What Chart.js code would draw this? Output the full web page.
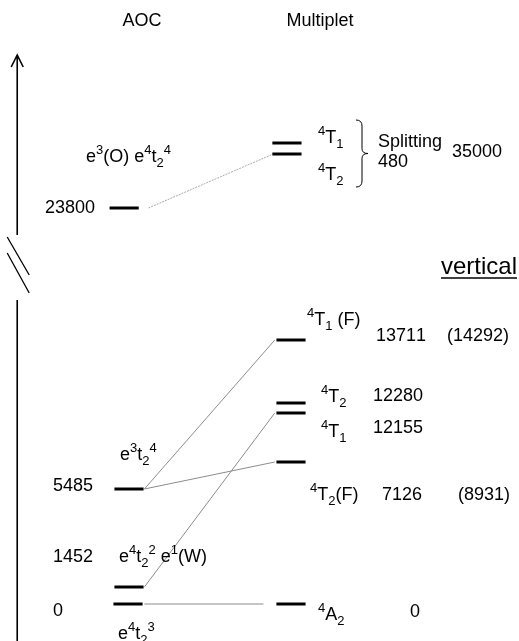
<!DOCTYPE html>
<html>
<head>
<meta charset="utf-8">
<script src="https://cdn.jsdelivr.net/npm/chart.js@4.4.0/dist/chart.umd.min.js"></script>
<style>
html, body { margin: 0; padding: 0; background: #fff; }
</style>
</head>
<body>
<canvas id="levelChart" width="519" height="641"></canvas>
<script>
// column 0 = AOC, column 1 = Multiplet
// heights are the drawn (schematic) positions of the levels, not to scale
var aocEnergies = ['0', '1452', '5485', '23800'];
var aocHeights = [0, 17, 115, 396];
var aocConfigs = ['e^4t_2^3', 'e^4t_2^2 e^1(W)', 'e^3t_2^4', 'e^3(O) e^4t_2^4'];

var multEnergies = ['0', '7126', '12155', '12280', '13711', '', ''];
var multHeights = [0, 142, 191, 201, 264, 450, 461];
var multTerms = ['^4A_2', '^4T_2(F)', '^4T_1', '^4T_2', '^4T_1 (F)', '^4T_2', '^4T_1'];
var multVertical = ['', '(8931)', '', '', '(14292)', '', ''];

// correlation lines: [aoc level, multiplet level]
var links = [[0, 0], [1, 2], [2, 1], [2, 4], [3, 5]];

var splitValue = '480';
var splitEnergy = '35000';

var HW = 0.09; // half width of a level, in column units
var FONT = '"Liberation Sans", Arial, sans-serif';

var datasets = [];
aocHeights.forEach(function (h, i) {
    var off = i === 3 ? -0.03 : (i === 0 ? -0.006 : 0);
    datasets.push({ data: [{ x: -HW + off, y: h }, { x: HW + off, y: h }], borderColor: '#000', borderWidth: 3 });
});
multHeights.forEach(function (h, i) {
    var off = i >= 5 ? -0.025 : 0;
    datasets.push({ data: [{ x: 1 - HW + off, y: h }, { x: 1 + HW + off, y: h }], borderColor: '#000', borderWidth: 3 });
});
links.forEach(function (l) {
    var x0 = HW + 0.005, x1 = 1 - HW - 0.01, col = '#8c8c8c';
    if (l[0] === 0) { x1 = 0.83; }
    if (l[0] === 3) { x0 = 0.12; x1 = 1 - HW - 0.02; col = '#a8a8a8'; }
    datasets.push({
        data: [{ x: x0, y: aocHeights[l[0]] }, { x: x1, y: multHeights[l[1]] }],
        borderColor: col, borderWidth: 1, borderDash: l[0] === 3 ? [2, 1] : []
    });
});
datasets.forEach(function (d) { d.showLine = true; d.pointRadius = 0; d.fill = false; });

// draw text with ^sup and _sub
function richText(ctx, str, x, y, size, align) {
    var parts = [], i = 0;
    while (i < str.length) {
        var c = str[i];
        if ((c === '^' || c === '_') && i + 1 < str.length) {
            parts.push({ t: str[i + 1], k: c });
            i += 2;
        } else {
            parts.push({ t: c, k: '' });
            i++;
        }
    }
    var small = Math.round(size * 0.7);
    var w = 0;
    parts.forEach(function (p) {
        ctx.font = (p.k ? small : size) + 'px ' + FONT;
        p.w = ctx.measureText(p.t).width;
        w += p.w;
    });
    var cx = align === 'center' ? x - w / 2 : (align === 'right' ? x - w : x);
    ctx.textBaseline = 'middle';
    ctx.textAlign = 'left';
    parts.forEach(function (p) {
        var dy = p.k === '^' ? -size * 0.36 : (p.k === '_' ? size * 0.34 : 0);
        ctx.font = (p.k ? small : size) + 'px ' + FONT;
        ctx.fillText(p.t, cx, y + dy);
        cx += p.w;
    });
    return w;
}

var labelsPlugin = {
    id: 'labels',
    afterDatasetsDraw: function (chart) {
        var ctx = chart.ctx, xs = chart.scales.x, ys = chart.scales.y;
        var px = function (v) { return xs.getPixelForValue(v); };
        var py = function (v) { return ys.getPixelForValue(v); };
        var c0 = px(0), c1 = px(1);
        ctx.save();
        ctx.fillStyle = '#000';
        ctx.strokeStyle = '#000';

        // energy axis with break
        var ax = px(-0.69);
        ctx.lineWidth = 1.6;
        ctx.beginPath();
        ctx.moveTo(ax, py(-37)); ctx.lineTo(ax, py(304));
        ctx.moveTo(ax, py(369)); ctx.lineTo(ax, py(549));
        ctx.moveTo(ax - 6, py(537)); ctx.lineTo(ax, py(549)); ctx.lineTo(ax + 6, py(537));
        ctx.stroke();
        ctx.lineWidth = 1.3;
        ctx.beginPath();
        ctx.moveTo(ax - 10, py(367)); ctx.lineTo(ax + 12, py(329));
        ctx.moveTo(ax - 10, py(351)); ctx.lineTo(ax + 12, py(311));
        ctx.stroke();

        // headers
        richText(ctx, 'AOC', c0 + 13, 21, 18, 'center');
        richText(ctx, 'Multiplet', c1 + 29, 21, 18, 'center');

        // AOC labels: [dx energy, dy energy, dx config, dy config]
        var aocPos = [[-76, 7, -11, 30], [-76, -30, -10, -30], [-76, -3, -9, -34], [-84, 0, -43, -51]];
        aocEnergies.forEach(function (e, i) {
            var p = aocPos[i], y = py(aocHeights[i]);
            richText(ctx, e, c0 + p[0], y + p[1], 18, 'left');
            richText(ctx, aocConfigs[i], c0 + p[2], y + p[3], 18, 'left');
        });

        // multiplet labels: [dx term, dy term, dx energy, dy energy, dx vertical]
        var multPos = [[27, 11, 119, 8, 0], [19, 33, 91, 33, 167], [30, 19, 82, 15, 0],
                       [30, -6, 82, -7, 0], [16, -20, 85, -4, 156], [27, 21, 0, 0, 0], [27, -5, 0, 0, 0]];
        multTerms.forEach(function (t, i) {
            var p = multPos[i], y = py(multHeights[i]);
            richText(ctx, t, c1 + p[0], y + p[1], 18, 'left');
            if (multEnergies[i]) richText(ctx, multEnergies[i], c1 + p[2], y + p[3], 18, 'left');
            if (multVertical[i]) richText(ctx, multVertical[i], c1 + p[4], y + p[3], 18, 'left');
        });

        // splitting brace
        var bx = c1 + 70, top = py(multHeights[6]) - 23, bot = py(multHeights[5]) + 33;
        var mid = (top + bot) / 2;
        ctx.lineWidth = 1;
        ctx.beginPath();
        ctx.moveTo(bx - 5, top);
        ctx.quadraticCurveTo(bx + 1, top, bx + 1, top + 6);
        ctx.lineTo(bx + 1, mid - 5);
        ctx.quadraticCurveTo(bx + 1, mid, bx + 7, mid);
        ctx.quadraticCurveTo(bx + 1, mid, bx + 1, mid + 5);
        ctx.lineTo(bx + 1, bot - 6);
        ctx.quadraticCurveTo(bx + 1, bot, bx - 5, bot);
        ctx.stroke();
        richText(ctx, 'Splitting', c1 + 87, mid - 11, 18, 'left');
        richText(ctx, splitValue, c1 + 87, mid + 9, 18, 'left');
        richText(ctx, splitEnergy, c1 + 161, mid - 1, 18, 'left');

        // "vertical" heading
        var vtx = 517;
        var vw = richText(ctx, 'vertical', vtx, 267, 24, 'right');
        ctx.lineWidth = 1.3;
        ctx.beginPath();
        ctx.moveTo(vtx - vw, 278); ctx.lineTo(vtx, 278);
        ctx.stroke();
        ctx.restore();
    }
};

new Chart(document.getElementById('levelChart'), {
    type: 'scatter',
    data: { datasets: datasets },
    options: {
        responsive: false,
        animation: false,
        layout: { padding: 0 },
        plugins: { legend: { display: false }, tooltip: { enabled: false } },
        scales: {
            x: { type: 'linear', display: false, min: -129 / 162, max: 390 / 162 },
            y: { type: 'linear', display: false, min: -37, max: 604 }
        }
    },
    plugins: [labelsPlugin]
});
</script>
</body>
</html>
